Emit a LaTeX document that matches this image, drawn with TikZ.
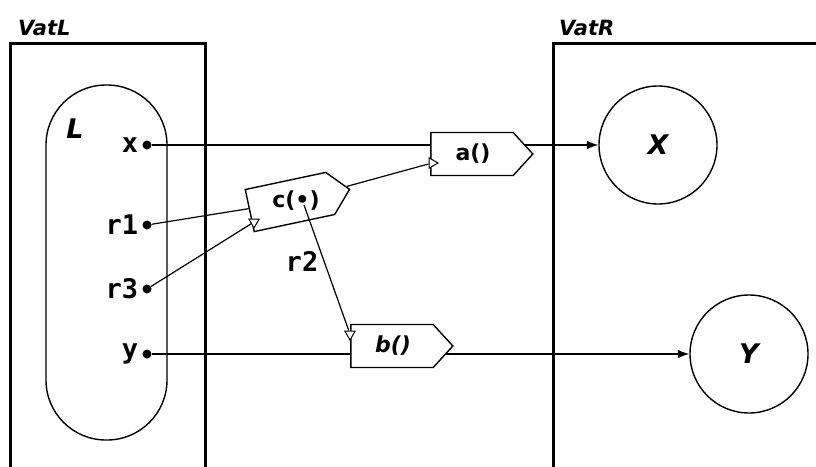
\documentclass[tikz,border=0pt]{standalone}
\usepackage{fontspec}
\setsansfont{DejaVu Sans}
\setmonofont{DejaVu Sans Mono}
\usetikzlibrary{arrows.meta,shapes.symbols,shapes.geometric,backgrounds}
\tikzset{
  >={Latex[length=4mm,width=3mm]},
  vat/.style={draw,line width=3pt},
  vatlab/.style={font=\fontsize{21}{21}\selectfont\sffamily\bfseries\itshape,anchor=base west,inner sep=0pt},
  tag/.style={draw,line width=1.4pt,shape=signal,signal to=east,signal pointer angle=95,minimum width=102pt,minimum height=43pt,inner sep=0pt,fill=white},
  tagtxt/.style={font=\fontsize{22}{22}\selectfont\sffamily\bfseries,inner sep=0pt},
  obj/.style={draw,circle,line width=1.4pt,minimum size=118pt,inner sep=0pt,font=\fontsize{27}{27}\selectfont\sffamily\bfseries\itshape},
  port/.style={circle,fill,inner sep=0pt,minimum size=9pt},
  portlab/.style={font=\fontsize{27}{27}\selectfont\ttfamily\bfseries,inner sep=0pt},
  pin/.style={draw,isosceles triangle,isosceles triangle apex angle=60,inner sep=0pt,minimum height=9pt,minimum width=10pt,line width=1pt,fill=white},
  wire/.style={line width=1.2pt},
}
\begin{document}
\begin{tikzpicture}[x=1pt,y=-1pt]
\clip (0,0) rectangle (816,466);
% vats
\draw[vat] (10,43) rectangle (205,480);
\draw[vat] (553,43) rectangle (830,480);
\node[vatlab] (vatl) at (18,35) {VatL};
\node[vatlab] (vatr) at (559,35) {VatR};
% object L
\draw[line width=1.4pt,rounded corners=60pt] (46,85) rectangle (167,440);
\node[obj,draw=none,minimum size=0pt,font=\fontsize{27}{27}\selectfont\sffamily\bfseries\itshape] (ltxt) at (75,129) {L};
% ports of L
\foreach \nm/\lab/\yy in {px/x/145,pr1/r1/225,pr3/r3/289,py/y/354}{
  \node[port] (\nm) at (147,\yy) {};
  \node[portlab,anchor=east] (\nm lab) at ([xshift=-4pt]\nm.west) {\lab};
}
% objects in VatR
\node[obj] (X) at (658,145) {X};
\node[obj] (Y) at (749,354) {Y};
% messages
\node[tag] (a) at (472,154) {};
\node[tagtxt] (atxt) at (473,154) {a()};
\node[tag] (b) at (392,346) {};
\node[tagtxt,font=\fontsize{22}{22}\selectfont\sffamily\bfseries\itshape] (btxt) at (393,346) {b()};
\node[tag,rotate=12] (c) at (290,202) {};
\node[tagtxt] (ctxt) at (296,201) {c(\textbullet)};
\coordinate (r2s) at (304,205);
% promise pins
\node[pin] (apin) at (432,163) {};
\node[pin,rotate=-90] (bpin) at (350,334) {};
\node[pin,rotate=-90] (cpin) at (254,222) {};
% sends
\begin{pgfonlayer}{background}
\draw[wire,->] (px) -- (X);
\draw[wire,->] (py) -- (Y);
\end{pgfonlayer}
\draw[wire] (pr1) -- (c);
\draw[wire] (pr3) -- (cpin);
\draw[wire] (c) -- (apin);
\draw[wire] (r2s) -- (bpin);
\node[portlab] (r2lab) at (302,261) {r2};
\end{tikzpicture}
\end{document}
